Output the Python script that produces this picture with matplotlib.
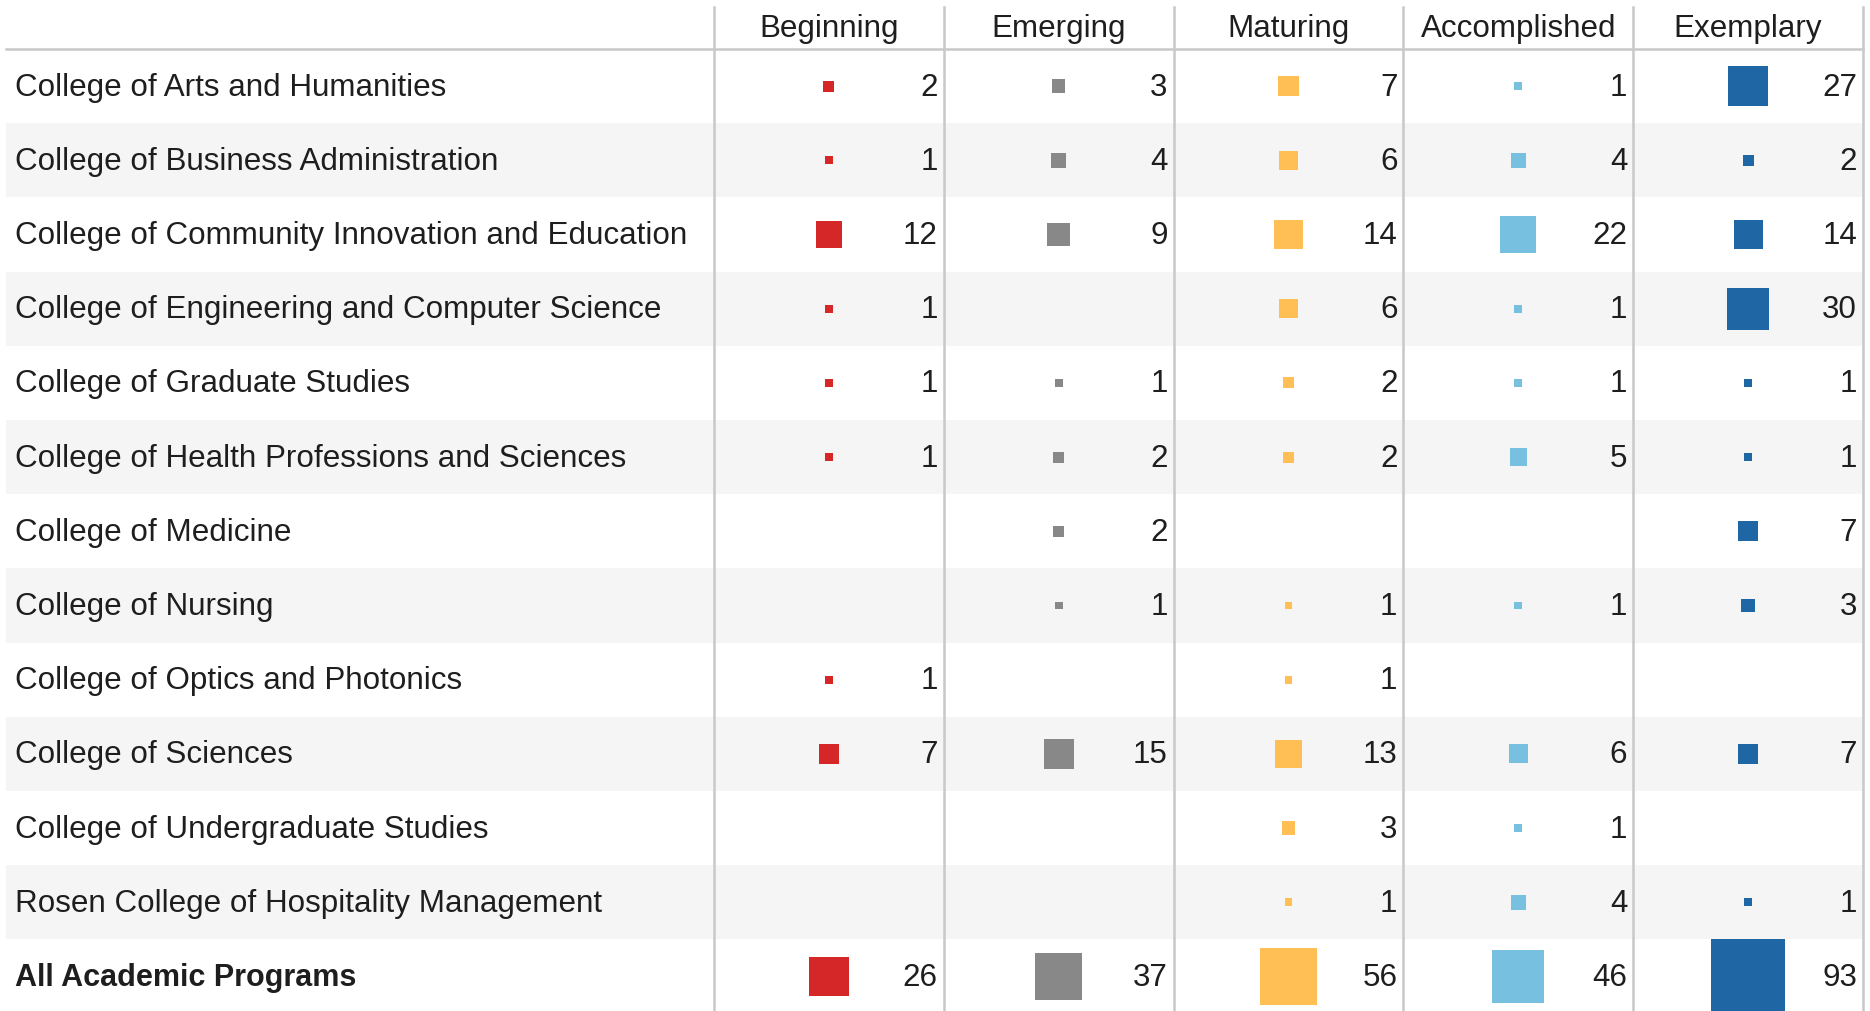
import numpy as np
import matplotlib.pyplot as plt
from matplotlib.patches import Rectangle

# table data
colleges = [
    "College of Arts and Humanities",
    "College of Business Administration",
    "College of Community Innovation and Education",
    "College of Engineering and Computer Science",
    "College of Graduate Studies",
    "College of Health Professions and Sciences",
    "College of Medicine",
    "College of Nursing",
    "College of Optics and Photonics",
    "College of Sciences",
    "College of Undergraduate Studies",
    "Rosen College of Hospitality Management",
    "All Academic Programs",
]
levels = ["Beginning", "Emerging", "Maturing", "Accomplished", "Exemplary"]

beginning    = [2, 1, 12, 1, 1, 1, None, None, 1, 7, None, None, 26]
emerging     = [3, 4, 9, None, 1, 2, 2, 1, None, 15, None, None, 37]
maturing     = [7, 6, 14, 6, 2, 2, None, 1, 1, 13, 3, 1, 56]
accomplished = [1, 4, 22, 1, 1, 5, None, 1, None, 6, 1, 4, 46]
exemplary    = [27, 2, 14, 30, 1, 1, 7, 3, None, 7, None, 1, 93]

colors = ["#d62728", "#888888", "#ffbf55", "#77c0e0", "#1f67a4"]

W, H = 1870, 1011
plt.rcParams['font.family'] = ['Liberation Sans', 'DejaVu Sans']
fig = plt.figure(figsize=(W / 100, H / 100), dpi=100)
ax = fig.add_axes([0, 0, 1, 1])
ax.set_xlim(0, W)
ax.set_ylim(H, 0)
ax.set_axis_off()

head_h = 49
row_h = 74.2
left = 6
col0 = 714
col_w = 229.8
right = col0 + col_w * len(levels)
fs = 22.6
txt = "#1e1e1e"
line_c = "#c8c8c8"

# alternating row bands
for i in range(len(colleges)):
    top = head_h + i * row_h
    if i % 2 == 1:
        ax.add_patch(Rectangle((left, top), right - left, row_h,
                               facecolor="#f5f5f5", edgecolor="none", zorder=0))

# grid lines
ax.plot([left, right], [head_h, head_h], color=line_c, lw=1.8, zorder=1)
for j in range(len(levels) + 1):
    x = col0 + j * col_w
    ax.plot([x, x], [7, H], color=line_c, lw=1.8, zorder=1)

# headers
for j, lv in enumerate(levels):
    ax.text(col0 + (j + 0.5) * col_w, 37, lv, ha="center", va="baseline",
            fontsize=fs, color=txt)

# rows
series = [beginning, emerging, maturing, accomplished, exemplary]
k = 7.7
for i, name in enumerate(colleges):
    yc = head_h + (i + 0.5) * row_h
    last = i == len(colleges) - 1
    ax.text(15, yc + 9.5, name, ha="left", va="baseline",
            fontsize=fs - 0.6 if last else fs,
            color=txt, fontweight="bold" if last else "normal")
    for j, vals in enumerate(series):
        v = vals[i]
        if v is None:
            continue
        xc = col0 + (j + 0.5) * col_w
        s = k * np.sqrt(v)
        ax.bar(xc, s, width=s, bottom=yc - s / 2, color=colors[j], zorder=2)
        ax.text(col0 + (j + 1) * col_w - 6, yc + 9.5, str(v), ha="right",
                va="baseline", fontsize=fs, color=txt)

fig.savefig("out.png", dpi=100)
